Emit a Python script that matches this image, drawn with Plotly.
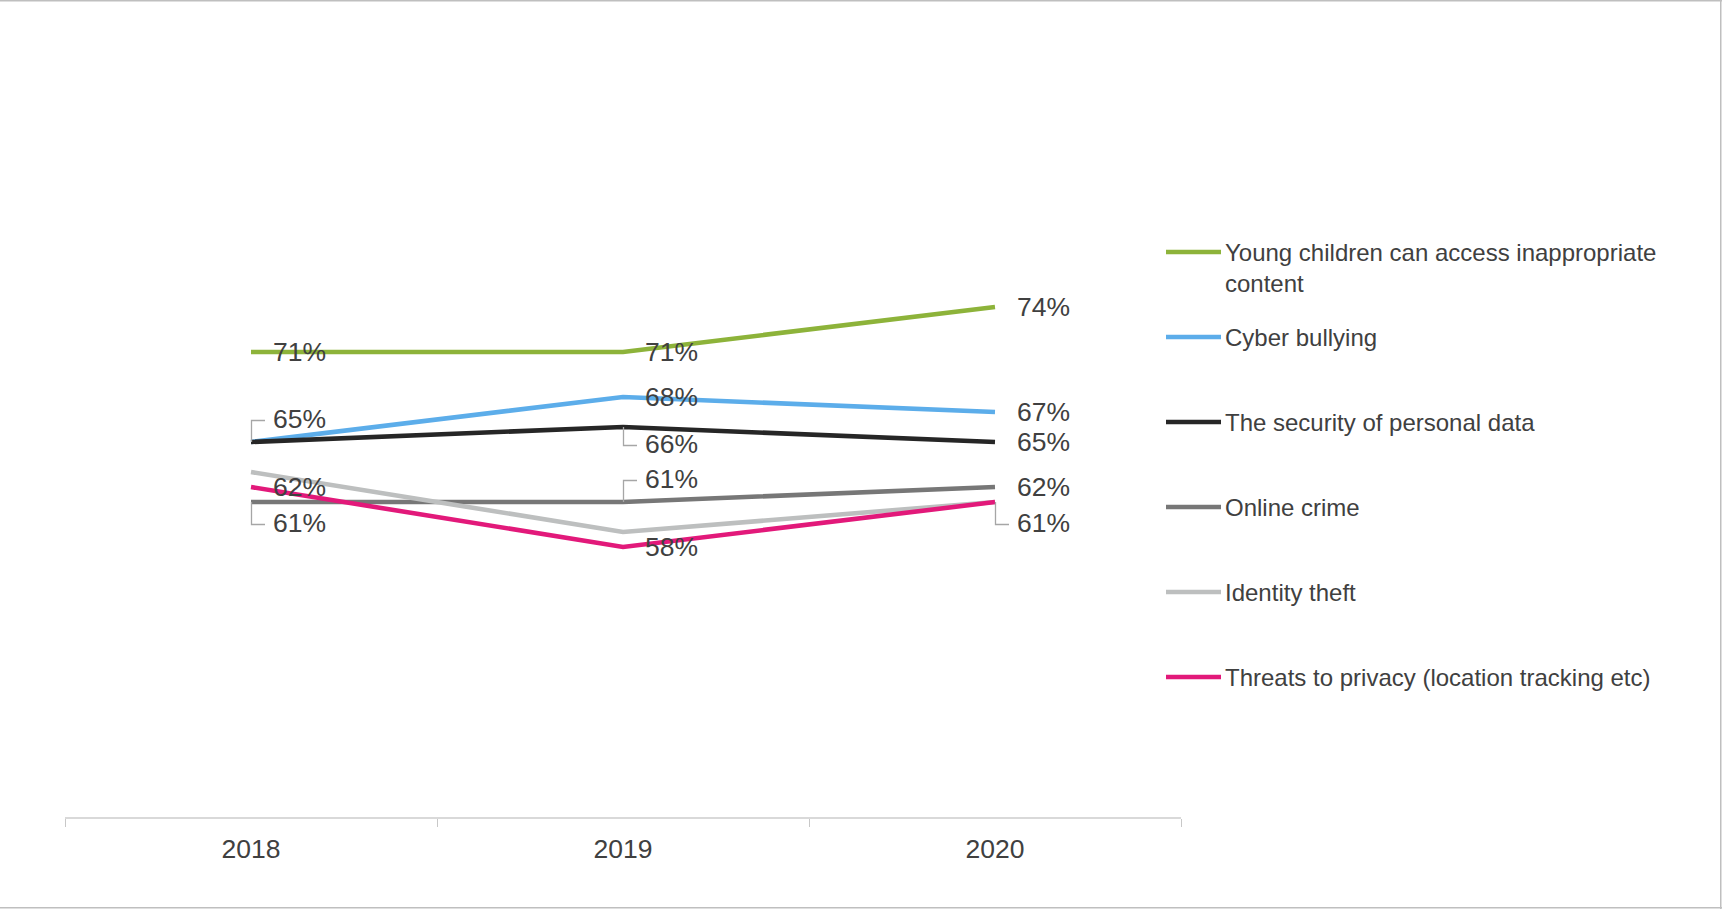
import plotly.graph_objects as go

# ---- data -------------------------------------------------------------
years = ["2018", "2019", "2020"]

series_names = [
    "Young children can access inappropriate content",
    "Cyber bullying",
    "The security of personal data",
    "Online crime",
    "Identity theft",
    "Threats to privacy (location tracking etc)",
]
legend_text = [
    "Young children can access inappropriate<br>content",
    "Cyber bullying",
    "The security of personal data",
    "Online crime",
    "Identity theft",
    "Threats to privacy (location tracking etc)",
]

young_children = [71, 71, 74]
cyber_bullying = [65, 68, 67]
personal_data = [65, 66, 65]
online_crime = [61, 61, 62]
identity_theft = [63, 59, 61]
privacy_threats = [62, 58, 61]

series_values = [young_children, cyber_bullying, personal_data,
                 online_crime, identity_theft, privacy_threats]

# ---- styling ------------------------------------------------------------
colors = ["#8DB33A", "#5CADEA", "#262626", "#777777", "#BDBFBF", "#E2197A"]
TEXT = "#404040"
FONT = "Liberation Sans, Arial, sans-serif"

# vertical pixel offset of each value label (None = no label; 0 = beside the
# point; anything else pulls the label up/down and adds a leader line)
label_dy = [
    [0, 0, 0],
    [None, 0, 0],
    [-23, 17, 0],
    [21, -23, 0],
    [None, None, None],
    [0, 0, 21],
]

W, H = 1722, 909
ML, MR, MT, MB = 65, 541, 217, 92
PW, PH = W - ML - MR, H - MT - MB


def px_x(px):
    return (px - ML) / PW


def px_y(py):
    return 1 - (py - MT) / PH


fig = go.Figure()

for name, vals, col in zip(series_names, series_values, colors):
    fig.add_trace(go.Scatter(
        x=years, y=vals, name=name, mode="lines",
        line=dict(color=col, width=4.6),
        showlegend=False, hoverinfo="x+y+name",
    ))

annotations = []
shapes = []

# value labels with optional leader lines (category axis -> index positions)
for vals, offsets in zip(series_values, label_dy):
    for idx, (v, dy) in enumerate(zip(vals, offsets)):
        if dy is None:
            continue
        annotations.append(dict(
            x=idx, y=v, xref="x", yref="y", text=f"{v}%", showarrow=False,
            xanchor="left", yanchor="middle", xshift=20, yshift=-dy,
            font=dict(family=FONT, size=26.5, color=TEXT),
        ))
        if dy != 0:
            lead_y = -dy - 1.5
            shapes.append(dict(
                type="path", xref="x", yref="y",
                xsizemode="pixel", ysizemode="pixel",
                xanchor=idx, yanchor=v,
                path=f"M0.5,0 L0.5,{lead_y} L14,{lead_y}",
                line=dict(color="#A6A6A6", width=1.3),
            ))

# legend drawn as line samples with text beside them
LEG_Y0, LEG_STEP = 252, 85
for i, (label, col) in enumerate(zip(legend_text, colors)):
    yc = LEG_Y0 + LEG_STEP * i
    shapes.append(dict(
        type="line", xref="paper", yref="paper",
        x0=px_x(1166), x1=px_x(1221), y0=px_y(yc), y1=px_y(yc),
        line=dict(color=col, width=4.6),
    ))
    n_lines = label.count("<br>") + 1
    annotations.append(dict(
        x=px_x(1223), y=px_y(yc + 15.5 * (n_lines - 1)),
        xref="paper", yref="paper", text=label, showarrow=False,
        xanchor="left", yanchor="middle", align="left",
        font=dict(family=FONT, size=24, color=TEXT),
    ))

# chart frame: top, right and bottom edges
frame = dict(color="#BFBFBF", width=1.5)
for x0, y0, x1, y1 in [(0, 0.75, W, 0.75),
                       (W - 1.25, 0, W - 1.25, H),
                       (0, H - 1.25, W, H - 1.25)]:
    shapes.append(dict(
        type="line", xref="paper", yref="paper", layer="above",
        x0=px_x(x0), x1=px_x(x1), y0=px_y(y0), y1=px_y(y1), line=frame,
    ))

fig.update_layout(
    width=W, height=H,
    margin=dict(l=ML, r=MR, t=MT, b=MB, autoexpand=False),
    paper_bgcolor="white", plot_bgcolor="white",
    showlegend=False,
    annotations=annotations,
    shapes=shapes,
    font=dict(family=FONT, color=TEXT),
    xaxis=dict(
        type="category", range=[-0.5, 2.5],
        showline=True, linecolor="#D9D9D9", linewidth=2,
        ticks="outside", tickson="boundaries", ticklen=8,
        tickcolor="#C8C8C8", tickwidth=1.2, ticklabelstandoff=7,
        showgrid=False, zeroline=False, fixedrange=True,
        tickfont=dict(family=FONT, size=26.5, color=TEXT),
    ),
    yaxis=dict(
        range=[40, 80], visible=False, showgrid=False,
        zeroline=False, fixedrange=True,
    ),
)

fig.write_html("out.html")
